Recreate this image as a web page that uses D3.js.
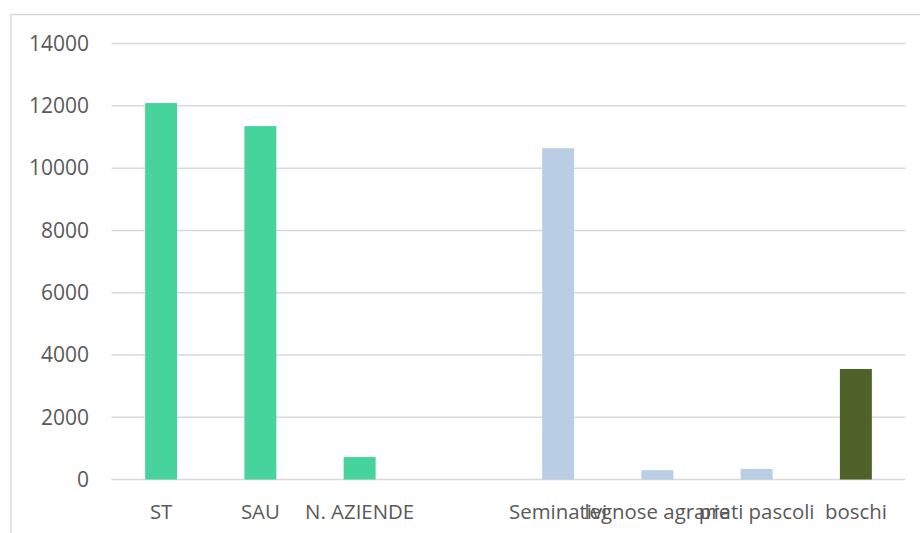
<!DOCTYPE html>
<html>
<head>
<meta charset="utf-8">
<script src="https://cdn.jsdelivr.net/npm/d3@7"></script>
<style>
  html, body { margin: 0; padding: 0; background: #fff; }
  svg { display: block; }
  text { font-family: "Open Sans", "Liberation Sans", sans-serif; fill: #595959; }
</style>
</head>
<body>
<svg id="chart" width="920" height="533"></svg>
<script>
const categories = ["ST", "SAU", "N. AZIENDE", "", "Seminativi", "legnose agrarie", "prati pascoli", "boschi"];
const values = [12090, 11350, 720, null, 10640, 300, 340, 3550];
const barColors = ["#46D39C", "#46D39C", "#46D39C", "#46D39C", "#B9CDE5", "#B9CDE5", "#B9CDE5", "#4F6228"];
const yTicks = [0, 2000, 4000, 6000, 8000, 10000, 12000, 14000];

const svg = d3.select("#chart");

// chart frame
svg.append("rect")
  .attr("x", 11).attr("y", 14.5)
  .attr("width", 1200).attr("height", 1200)
  .attr("fill", "none").attr("stroke", "#d9d9d9").attr("stroke-width", 1.5);

const plot = { left: 111.5, right: 905.5, top: 43.6, bottom: 479.5 };

const x = d3.scaleBand()
  .domain(d3.range(categories.length))
  .range([plot.left, plot.right])
  .padding(0);

const y = d3.scaleLinear()
  .domain([0, 14000])
  .range([plot.bottom, plot.top]);

// gridlines
svg.append("g")
  .selectAll("line")
  .data(yTicks)
  .join("line")
  .attr("x1", plot.left).attr("x2", plot.right)
  .attr("y1", d => y(d)).attr("y2", d => y(d))
  .attr("stroke", "#d9d9d9").attr("stroke-width", 1.5);

// y labels
svg.append("g")
  .selectAll("text")
  .data(yTicks)
  .join("text")
  .attr("x", 89)
  .attr("y", d => y(d))
  .attr("dy", "0.35em")
  .attr("text-anchor", "end")
  .attr("font-size", 21)
  .text(d => d);

// bars
const barW = x.bandwidth() * 0.322;
svg.append("g")
  .selectAll("rect")
  .data(values.map((v, i) => ({ v, i })).filter(d => d.v != null))
  .join("rect")
  .attr("x", d => x(d.i) + x.bandwidth() / 2 - barW / 2)
  .attr("width", barW)
  .attr("y", d => y(d.v))
  .attr("height", d => y(0) - y(d.v))
  .attr("fill", d => barColors[d.i]);

// x labels
svg.append("g")
  .selectAll("text")
  .data(categories.map((c, i) => ({ c, i })))
  .join("text")
  .attr("x", d => x(d.i) + x.bandwidth() / 2)
  .attr("y", 518.5)
  .attr("text-anchor", "middle")
  .attr("font-size", 20.4)
  .text(d => d.c);
</script>
</body>
</html>
